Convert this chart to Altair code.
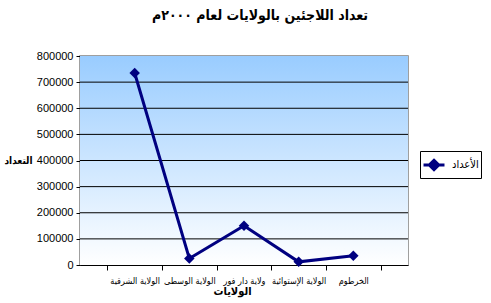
import altair as alt
import pandas as pd

categories = ["الولاية الشرقية", "الولاية الوسطى", "ولاية دار فور", "الولاية الإستوائية", "الخرطوم"]
values = [735000, 25000, 150000, 12000, 35000]
series_name = "الأعداد"
y_ticks = [0, 100000, 200000, 300000, 400000, 500000, 600000, 700000, 800000]

df = pd.DataFrame({"cat": categories, "val": values, "series": [series_name] * len(categories)})
grid_df = pd.DataFrame({"val": y_ticks[1:-1]})

W, H = 328, 209
FONT = "DejaVu Sans Condensed"

y_axis = alt.Axis(title="التعداد", values=y_ticks, format="d", grid=False,
                  domainColor="black", tickColor="black", tickSize=4,
                  labelFont="Liberation Sans", labelFontSize=11,
                  labelColor="black", labelPadding=3,
                  titleAngle=0, titleX=-62, titleY=104,
                  titleAlign="center", titleBaseline="middle",
                  titleFont=FONT, titleFontSize=10, titleFontWeight="bold",
                  titleColor="black")
y_scale = alt.Scale(domain=[0, 800000], nice=False)

bg = alt.Chart(pd.DataFrame({"a": [0]})).mark_rect(
    color=alt.Gradient(
        gradient="linear",
        stops=[alt.GradientStop(color="#99CCFF", offset=0),
               alt.GradientStop(color="#FFFFFF", offset=1)],
        x1=0, x2=0, y1=0, y2=1,
    )
).encode(x=alt.value(0), x2=alt.value(W), y=alt.value(0), y2=alt.value(H))

grid = alt.Chart(grid_df).mark_rule(color="black", strokeWidth=1).encode(
    y=alt.Y("val:Q", scale=y_scale, axis=y_axis),
    x=alt.value(0), x2=alt.value(W),
)

line = alt.Chart(df).mark_line(
    strokeWidth=3,
    point=alt.OverlayMarkDef(shape="diamond", size=110, filled=True, color="#000080"),
).encode(
    x=alt.X("cat:N", sort=categories,
            scale=alt.Scale(paddingInner=0, paddingOuter=0.5),
            axis=alt.Axis(title="الولايات", labelAngle=0, tickBand="extent",
                          domainColor="black", tickColor="black", tickSize=5,
                          labelFont=FONT, labelFontSize=9, labelColor="black",
                          labelPadding=6, titleFont=FONT, titleFontSize=11,
                          titleFontWeight="bold", titleColor="black", titlePadding=0,
                          titleX=152, grid=False)),
    y=alt.Y("val:Q", scale=y_scale, axis=y_axis),
    color=alt.Color("series:N", scale=alt.Scale(range=["#000080"]),
                    legend=alt.Legend(
                        title=None, orient="none", legendX=340, legendY=95,
                        symbolType="M-1,0H1M0,-0.45L0.45,0L0,0.45L-0.45,0Z",
                        symbolSize=440, symbolStrokeWidth=3,
                        symbolFillColor="#000080", symbolStrokeColor="#000080",
                        labelFont=FONT, labelFontSize=11, labelColor="black",
                        strokeColor="black", fillColor="white",
                        padding=2, labelOffset=6,
                    )),
)

chart = alt.layer(bg, grid, line).properties(
    width=W, height=H,
    title=alt.TitleParams("تعداد اللاجئين بالولايات لعام ٢٠٠٠م", font=FONT,
                          fontSize=14, fontWeight="bold", color="black",
                          anchor="middle", dx=16, offset=27),
    autosize=alt.AutoSizeParams(type="none"),
    padding={"left": 80, "top": 56, "right": 83, "bottom": 38},
    background="white",
).configure_view(stroke="#808080", strokeWidth=1.5)

chart.save("out.html", embed_options={"renderer": "svg", "actions": False})
